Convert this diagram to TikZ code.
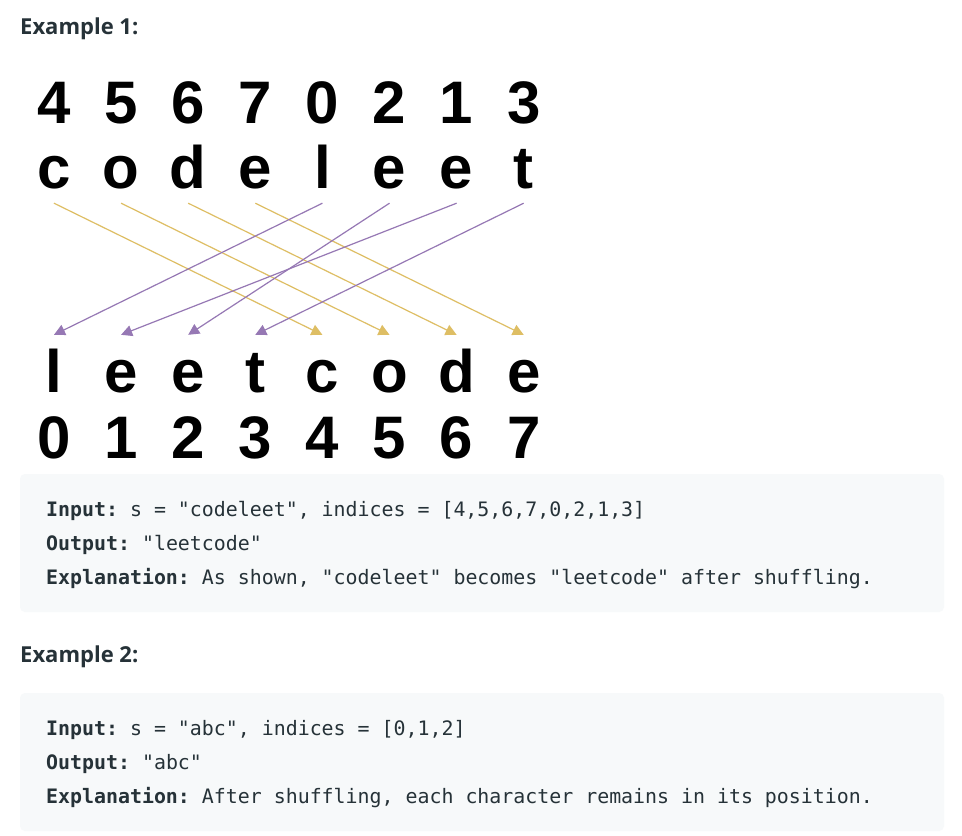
\documentclass[tikz,border=0pt]{standalone}
\usepackage{fontspec}
\usetikzlibrary{arrows.meta}
\newfontfamily\bigfont{Liberation Sans}
\newfontfamily\headfont{Open Sans}
\newfontfamily\codefont{DejaVu Sans Mono}
\definecolor{yarr}{HTML}{DEBE64}
\definecolor{parr}{HTML}{9678B4}
\definecolor{codebg}{HTML}{F7F9FA}
\definecolor{txt}{HTML}{263238}
\tikzset{
  bigglyph/.style={anchor=base, inner sep=0pt, font=\bigfont\bfseries\fontsize{60}{72}\selectfont},
  toplet/.style={bigglyph, text depth=15pt},
  botlet/.style={bigglyph, text height=57pt},
  yarrow/.style={draw=yarr, line width=1.2pt, -{Triangle[length=11pt,width=11pt]}},
  parrow/.style={draw=parr, line width=1.2pt, -{Triangle[length=11pt,width=11pt]}},
  heading/.style={anchor=base west, inner sep=0pt, text=txt, font=\headfont\bfseries\fontsize{22}{27}\selectfont},
  codebox/.style={fill=codebg, draw=none, rounded corners=5pt},
  codeline/.style={anchor=base west, inner sep=0pt, text=txt, font=\codefont\fontsize{19.9}{24}\selectfont\frenchspacing},
}
\begin{document}
\begin{tikzpicture}[x=1pt, y=-1pt]
\useasboundingbox[fill=white] (0,0) rectangle (962,836);
% headings
\node[heading] (h1) at (20,34) {Example 1:};
\node[heading] (h2) at (20,662) {Example 2:};
% big digits and letters
\foreach \d [count=\i from 0] in {4,5,6,7,0,2,1,3}
  \node[bigglyph] (td\i) at ({54+67.1*\i},123) {\d};
\foreach \c [count=\i from 0] in {c,o,d,e,l,e,e,t}
  \node[toplet] (tl\i) at ({54+67.1*\i},188) {\c};
\foreach \c [count=\i from 0] in {l,e,e,t,c,o,d,e}
  \node[botlet] (bl\i) at ({54+67.1*\i},392) {\c};
\foreach \d [count=\i from 0] in {0,1,2,3,4,5,6,7}
  \node[bigglyph] (bd\i) at ({54+67.1*\i},458) {\d};
% connectors
\draw[yarrow] (tl0.south) -- (bl4.north);
\draw[yarrow] (tl1.south) -- (bl5.north);
\draw[yarrow] (tl2.south) -- (bl6.north);
\draw[yarrow] (tl3.south) -- (bl7.north);
\draw[parrow] (tl4.south) -- (bl0.north);
\draw[parrow] (tl5.south) -- (bl2.north);
\draw[parrow] (tl6.south) -- (bl1.north);
\draw[parrow] (tl7.south) -- (bl3.north);
% code boxes
\path[codebox] (20,474) rectangle (944,612);
\path[codebox] (20,693) rectangle (944,831);
\node[codeline] (c1a) at (46,516) {\textbf{Input:} s = "codeleet", indices = [4,5,6,7,0,2,1,3]};
\node[codeline] (c1b) at (46,550) {\textbf{Output:} "leetcode"};
\node[codeline] (c1c) at (46,584) {\textbf{Explanation:} As shown, "codeleet" becomes "leetcode" after shuffling.};
\node[codeline] (c2a) at (46,735) {\textbf{Input:} s = "abc", indices = [0,1,2]};
\node[codeline] (c2b) at (46,769) {\textbf{Output:} "abc"};
\node[codeline] (c2c) at (46,803) {\textbf{Explanation:} After shuffling, each character remains in its position.};
\end{tikzpicture}
\end{document}
